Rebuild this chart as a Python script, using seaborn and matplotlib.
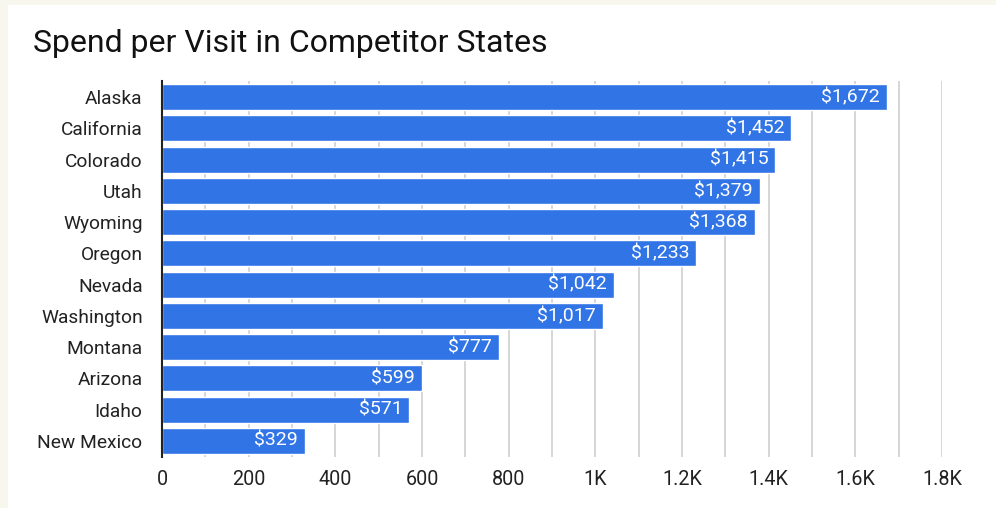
import matplotlib
matplotlib.use("Agg")
import matplotlib.pyplot as plt
import matplotlib.patches as mpatches
from matplotlib.ticker import MultipleLocator
from matplotlib.transforms import offset_copy
import seaborn as sns
import pandas as pd

states = ["Alaska", "California", "Colorado", "Utah", "Wyoming", "Oregon",
          "Nevada", "Washington", "Montana", "Arizona", "Idaho", "New Mexico"]
spend = [1672, 1452, 1415, 1379, 1368, 1233, 1042, 1017, 777, 599, 571, 329]
x_ticks = [0, 200, 400, 600, 800, 1000, 1200, 1400, 1600, 1800]
x_tick_labels = ["0", "200", "400", "600", "800", "1K", "1.2K", "1.4K", "1.6K", "1.8K"]
title = "Spend per Visit in Competitor States"

df = pd.DataFrame({"state": states, "spend": spend})

sns.set_theme(style="white")
plt.rcParams["font.family"] = ["Roboto", "DejaVu Sans"]

W, H = 996, 508
fig = plt.figure(figsize=(W / 100, H / 100), dpi=100)
fig.patch.set_facecolor("#f7f7ee")
fig.patches.append(mpatches.Rectangle((8 / W, 0), 1 - 8 / W, 1 - 5 / H,
                                      transform=fig.transFigure,
                                      facecolor="white", edgecolor="none", zorder=-10))

ax = fig.add_axes([162 / W, 1 - 456.6 / H, (942 - 162) / W, (456.6 - 81.4) / H])
ax.set_zorder(2)
ax.set_facecolor("none")

blue = "#3174e6"
sns.barplot(data=df, x="spend", y="state", orient="h", color=blue,
            saturation=1, width=0.83, ax=ax, zorder=3)

ax.set_xlim(0, 1800)
ax.xaxis.set_minor_locator(MultipleLocator(100))
ax.set_xticks(x_ticks)
ax.set_xticklabels(x_tick_labels)
ax.grid(axis="x", which="both", color="#d3d3d3", linewidth=1.3, zorder=0)
ax.set_axisbelow(True)

for side in ["top", "right", "bottom"]:
    ax.spines[side].set_visible(False)
ax.spines["left"].set_color("#222222")
ax.spines["left"].set_linewidth(1.5)
ax.spines["left"].set_zorder(5)

ax.tick_params(axis="both", which="both", length=0)
ax.tick_params(axis="y", pad=14, labelsize=13.8, labelcolor="#222222")
ax.tick_params(axis="x", pad=10, labelsize=14.2, labelcolor="#222222")
ax.set_xlabel("")
ax.set_ylabel("")

trans = offset_copy(ax.transData, fig=fig, x=-5, y=0, units="points")
for patch, v in zip(ax.patches, spend):
    yc = patch.get_y() + patch.get_height() / 2
    ax.text(patch.get_x() + patch.get_width(), yc, f"${v:,.0f}",
            transform=trans, ha="right", va="center",
            color="white", fontsize=14, zorder=6)

fig.text(33 / W, 1 - 43 / H, title, fontsize=23, color="#111111",
         va="center", ha="left")

fig.savefig("out.png", dpi=100, facecolor=fig.get_facecolor())
